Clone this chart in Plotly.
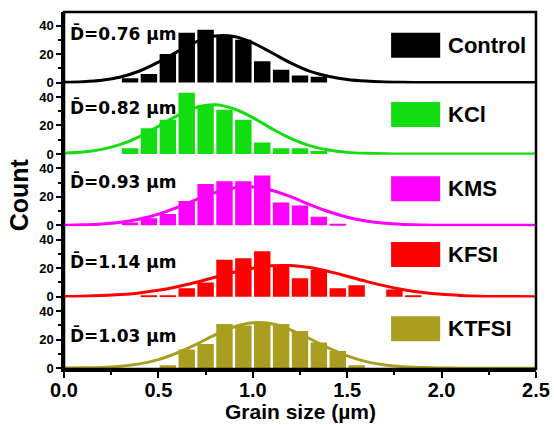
import plotly.graph_objects as go
from plotly.subplots import make_subplots

# ---- data -------------------------------------------------------------
samples = ["Control", "KCl", "KMS", "KFSI", "KTFSI"]
mean_sizes = ["0.76", "0.82", "0.93", "1.14", "1.03"]

# histogram bin centres (µm, bin width 0.1) and counts
control_bins = [0.35, 0.45, 0.55, 0.65, 0.75, 0.85, 0.95, 1.05, 1.15, 1.25, 1.35]
control_counts = [3, 6, 20, 35, 37, 32, 30, 15, 9, 5, 4]

kcl_bins = [0.35, 0.45, 0.55, 0.65, 0.75, 0.85, 0.95, 1.05, 1.15, 1.25, 1.35]
kcl_counts = [4, 18, 24, 43, 34, 31, 24, 8, 4, 4, 2]

kms_bins = [0.35, 0.45, 0.55, 0.65, 0.75, 0.85, 0.95, 1.05, 1.15, 1.25, 1.35, 1.45]
kms_counts = [2, 5, 8, 17, 29, 31, 31, 35, 16, 14, 6, 1]

kfsi_bins = [0.45, 0.55, 0.65, 0.75, 0.85, 0.95, 1.05, 1.15, 1.25, 1.35, 1.45, 1.55, 1.75, 1.85]
kfsi_counts = [1, 1, 6, 10, 26, 27, 32, 21, 13, 19, 6, 8, 5, 1]

ktfsi_bins = [0.55, 0.65, 0.75, 0.85, 0.95, 1.05, 1.15, 1.25, 1.35, 1.45, 1.55]
ktfsi_counts = [2, 13, 17, 31, 30, 32, 31, 26, 18, 12, 2]

# normal-fit curves, sampled every 0.1 µm
fit_x = [0.0, 0.1, 0.2, 0.3, 0.4, 0.5, 0.6, 0.7, 0.8, 0.9, 1.0, 1.1, 1.2,
         1.3, 1.4, 1.5, 1.6, 1.7, 1.8, 1.9, 2.0, 2.1, 2.2, 2.3, 2.4, 2.5]
control_fit = [0.2, 0.6, 1.6, 3.9, 8.1, 14.3, 21.7, 28.6, 32.6, 32.3, 27.8, 20.9, 13.8,
               8.0, 4.4, 2.2, 1.0, 0.4, 0.15, 0.05, 0, 0, 0, 0, 0, 0]
kcl_fit = [0.5, 1.3, 3.2, 6.7, 12.2, 19.4, 26.9, 32.6, 34.5, 31.7, 25.5, 17.8, 10.9,
           5.8, 2.7, 1.1, 0.4, 0.1, 0, 0, 0, 0, 0, 0, 0, 0]
kms_fit = [0.1, 0.4, 1.0, 2.2, 4.4, 7.9, 12.6, 18.0, 23.0, 26.3, 26.9, 24.6, 20.1,
           14.7, 9.7, 5.7, 3.0, 1.4, 0.6, 0.2, 0.1, 0, 0, 0, 0, 0]
kfsi_fit = [0.2, 0.4, 0.8, 1.5, 2.7, 4.5, 7.0, 10.2, 13.7, 17.2, 20.0, 21.7, 21.9,
            20.5, 17.8, 14.4, 10.8, 7.6, 4.9, 3.0, 1.7, 0.9, 0.4, 0.2, 0.1, 0.0]
ktfsi_fit = [0.1, 0.2, 0.5, 1.4, 3.0, 6.0, 10.7, 16.7, 23.4, 28.9, 31.8, 31.1, 26.9,
             20.7, 14.2, 8.6, 4.6, 2.2, 0.9, 0.4, 0.1, 0, 0, 0, 0, 0]

x_ticks = [0.0, 0.5, 1.0, 1.5, 2.0, 2.5]
y_ticks = [0, 20, 40]

# ---- styling ----------------------------------------------------------
colors = ["#000000", "#11DD11", "#FF00FF", "#FF0000", "#A99E1F"]
label_y = [0.70, 0.66, 0.62, 0.51, 0.47]      # mean-size label heights (panel fraction)
key_y = [(0.36, 0.71), (0.39, 0.74), (0.35, 0.70), (0.43, 0.78), (0.39, 0.74)]
FONT = "Liberation Sans, Arial, sans-serif"

bins = [control_bins, kcl_bins, kms_bins, kfsi_bins, ktfsi_bins]
counts = [control_counts, kcl_counts, kms_counts, kfsi_counts, ktfsi_counts]
fits = [control_fit, kcl_fit, kms_fit, kfsi_fit, ktfsi_fit]

fig = make_subplots(rows=5, cols=1, shared_xaxes=True, vertical_spacing=0)

for i, name in enumerate(samples):
    row = i + 1
    fig.add_trace(go.Scatter(x=fit_x, y=fits[i], mode="lines",
                             line=dict(color=colors[i], width=3, shape="spline"),
                             showlegend=False, hoverinfo="skip"), row=row, col=1)
    fig.add_trace(go.Bar(x=bins[i], y=counts[i], marker=dict(color=colors[i], line_width=0),
                         name=name, showlegend=False), row=row, col=1)

    yref = "y domain" if row == 1 else f"y{row} domain"
    # key swatch and sample name
    fig.add_shape(type="rect", xref="paper", yref=yref,
                  x0=0.693, x1=0.797, y0=key_y[i][0], y1=key_y[i][1],
                  fillcolor=colors[i], line_width=0)
    fig.add_annotation(xref="paper", yref=yref, x=0.809, y=sum(key_y[i]) / 2,
                       text=name, showarrow=False, xanchor="left", yanchor="middle",
                       font=dict(family=FONT, size=22, color="black", weight="bold"))
    # mean grain size
    fig.add_annotation(xref="paper", yref=yref, x=0.008, y=label_y[i],
                       text=f"D\u0304={mean_sizes[i]} µm", showarrow=False,
                       xanchor="left", yanchor="middle",
                       font=dict(family="DejaVu Sans, sans-serif", size=17,
                                 color="black", weight="bold"))

    fig.update_yaxes(row=row, col=1, range=[-0.6, 49.5], tickvals=y_ticks,
                     ticks="outside", ticklen=5, tickwidth=2, tickcolor="black",
                     minor=dict(ticks="outside", ticklen=3, tickwidth=1.5, dtick=10,
                                tickcolor="black"),
                     showline=True, linecolor="black", linewidth=2.5,
                     showgrid=False, zeroline=False, automargin=False,
                     tickfont=dict(family=FONT, size=13, color="black", weight="bold"))
    fig.update_xaxes(row=row, col=1, range=[0, 2.5], showgrid=False, zeroline=False,
                     showline=False, showticklabels=(row == 5), automargin=False)

fig.update_xaxes(row=5, col=1, tickvals=x_ticks, tickformat=".1f",
                 ticks="outside", ticklen=6, tickwidth=2, tickcolor="black",
                 minor=dict(ticks="outside", ticklen=3, tickwidth=1.5, dtick=0.25,
                            tickcolor="black"),
                 showline=True, linecolor="black", linewidth=2.5,
                 ticklabelstandoff=-5,
                 tickfont=dict(family=FONT, size=20, color="black", weight="bold"))

# outer frame
fig.add_shape(type="rect", xref="paper", yref="paper", x0=0, x1=1, y0=0, y1=1,
              line=dict(color="black", width=2.5), layer="above")

fig.add_annotation(xref="paper", yref="paper", x=0.5, y=-0.118, text="Grain size (µm)",
                   showarrow=False, xanchor="center", yanchor="middle",
                   font=dict(family=FONT, size=21, color="black", weight="bold"))
fig.add_annotation(xref="paper", yref="paper", x=-0.095, y=0.487, text="Count",
                   textangle=-90, showarrow=False, xanchor="center", yanchor="middle",
                   font=dict(family=FONT, size=25, color="black", weight="bold"))

fig.update_layout(width=554, height=425, margin=dict(l=64, r=18, t=12, b=56, autoexpand=False),
                  plot_bgcolor="white", paper_bgcolor="white", bargap=0.13,
                  showlegend=False, font=dict(family=FONT, color="black"))

fig.write_html("out.html")
